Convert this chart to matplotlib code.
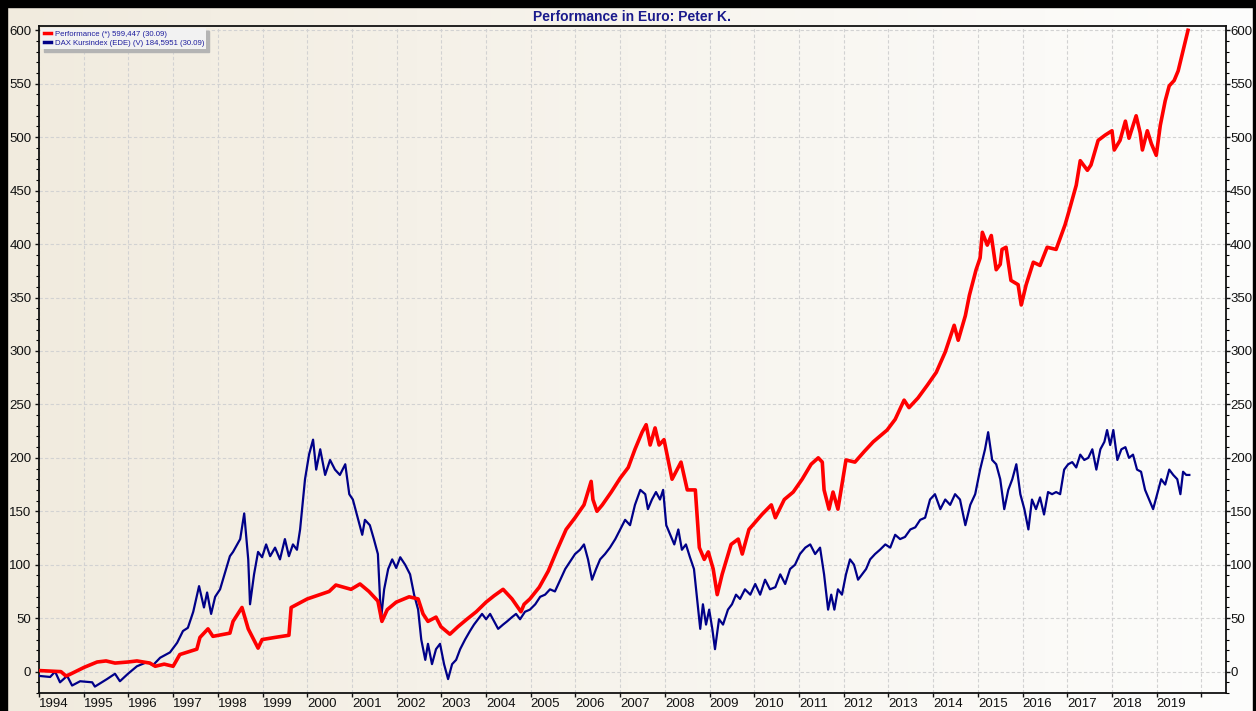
import numpy as np
import matplotlib
import matplotlib.pyplot as plt
from matplotlib.ticker import MultipleLocator

matplotlib.use('Agg')
plt.rcParams['font.family'] = ['Liberation Sans', 'DejaVu Sans']

# Performance (red), decimal years / value
perf_year = [1994.00, 1994.49, 1994.60, 1994.67, 1995.01, 1995.30, 1995.50, 1995.70, 1995.99,
             1996.19, 1996.48, 1996.60, 1996.80, 1997.00, 1997.15, 1997.53, 1997.60, 1997.78,
             1997.89, 1998.27, 1998.34, 1998.54, 1998.68, 1998.90, 1998.99, 1999.28, 1999.59,
             1999.64, 2000.00, 2000.49, 2000.64, 2000.98, 2001.18, 2001.38, 2001.58, 2001.67,
             2001.79, 2001.99, 2002.28, 2002.48, 2002.59, 2002.70, 2002.88, 2002.99, 2003.19,
             2003.37, 2003.57, 2003.78, 2004.00, 2004.18, 2004.38, 2004.58, 2004.78, 2004.85,
             2004.98, 2005.19, 2005.39, 2005.59, 2005.79, 2005.99, 2006.19, 2006.35, 2006.39,
             2006.48, 2006.60, 2006.80, 2007.00, 2007.18, 2007.33, 2007.49, 2007.58, 2007.67,
             2007.78, 2007.87, 2007.98, 2008.16, 2008.36, 2008.50, 2008.68, 2008.77, 2008.88,
             2008.97, 2009.08, 2009.17, 2009.28, 2009.48, 2009.64, 2009.73, 2009.88, 2010.17,
             2010.38, 2010.47, 2010.67, 2010.87, 2011.07, 2011.27, 2011.43, 2011.52, 2011.56,
             2011.67, 2011.76, 2011.87, 2011.96, 2012.05, 2012.25, 2012.46, 2012.66, 2012.97,
             2013.15, 2013.35, 2013.46, 2013.66, 2013.87, 2014.07, 2014.27, 2014.47, 2014.56,
             2014.72, 2014.81, 2014.96, 2015.05, 2015.10, 2015.21, 2015.30, 2015.41, 2015.50,
             2015.54, 2015.63, 2015.74, 2015.90, 2015.97, 2016.08, 2016.24, 2016.39, 2016.55,
             2016.75, 2016.95, 2017.04, 2017.20, 2017.29, 2017.45, 2017.53, 2017.69, 2017.85,
             2018.00, 2018.05, 2018.18, 2018.30, 2018.38, 2018.54, 2018.63, 2018.68, 2018.79,
             2018.88, 2018.99, 2019.08, 2019.19, 2019.28, 2019.39, 2019.48, 2019.59, 2019.70]
perf_val = [1, 0, -4, -3, 4, 9, 10, 8, 9,
            10, 8, 5, 7, 5, 16, 21, 32, 40,
            33, 36, 47, 60, 40, 22, 30, 32, 34,
            60, 68, 75, 81, 77, 82, 75, 66, 47,
            58, 65, 70, 68, 54, 47, 51, 42, 35,
            42, 49, 56, 65, 71, 77, 68, 56, 63,
            68, 79, 94, 114, 133, 144, 156, 178, 161,
            150, 156, 168, 181, 191, 208, 224, 231, 212,
            228, 212, 217, 180, 196, 170, 170, 116, 105,
            112, 96, 72, 91, 119, 124, 110, 133, 147,
            156, 144, 161, 168, 180, 194, 200, 196, 170,
            152, 168, 152, 175, 198, 196, 206, 215, 226,
            236, 254, 247, 256, 268, 280, 299, 324, 310,
            333, 352, 376, 387, 411, 399, 408, 376, 381,
            395, 397, 366, 362, 343, 362, 383, 380, 397,
            395, 418, 431, 455, 478, 469, 474, 497, 502,
            506, 488, 497, 515, 499, 520, 504, 488, 506,
            494, 483, 511, 534, 548, 553, 562, 581, 600]

# DAX Kursindex (blue)
dax_year = [1994.00, 1994.25, 1994.36, 1994.47, 1994.63, 1994.74, 1994.92, 1995.19, 1995.25,
            1995.52, 1995.70, 1995.81, 1995.99, 1996.19, 1996.42, 1996.55, 1996.71, 1996.93,
            1997.09, 1997.22, 1997.33, 1997.45, 1997.58, 1997.69, 1997.76, 1997.85, 1997.94,
            1998.05, 1998.27, 1998.34, 1998.50, 1998.59, 1998.68, 1998.72, 1998.81, 1998.90,
            1998.99, 1999.08, 1999.17, 1999.28, 1999.39, 1999.50, 1999.59, 1999.68, 1999.77,
            1999.84, 1999.95, 2000.04, 2000.13, 2000.20, 2000.29, 2000.40, 2000.51, 2000.62,
            2000.73, 2000.85, 2000.94, 2001.02, 2001.11, 2001.23, 2001.29, 2001.40, 2001.49,
            2001.58, 2001.65, 2001.72, 2001.81, 2001.90, 2001.99, 2002.08, 2002.19, 2002.30,
            2002.39, 2002.48, 2002.55, 2002.64, 2002.70, 2002.79, 2002.88, 2002.97, 2003.06,
            2003.15, 2003.24, 2003.33, 2003.42, 2003.53, 2003.64, 2003.73, 2003.82, 2003.91,
            2004.00, 2004.09, 2004.18, 2004.27, 2004.38, 2004.47, 2004.58, 2004.67, 2004.76,
            2004.87, 2004.98, 2005.10, 2005.21, 2005.32, 2005.43, 2005.54, 2005.66, 2005.77,
            2005.88, 2005.99, 2006.10, 2006.19, 2006.28, 2006.37, 2006.46, 2006.55, 2006.66,
            2006.77, 2006.89, 2007.00, 2007.11, 2007.22, 2007.33, 2007.45, 2007.56, 2007.62,
            2007.71, 2007.80, 2007.89, 2007.96, 2008.03, 2008.12, 2008.21, 2008.30, 2008.38,
            2008.47, 2008.56, 2008.65, 2008.72, 2008.79, 2008.85, 2008.92, 2008.99, 2009.06,
            2009.12, 2009.21, 2009.30, 2009.41, 2009.50, 2009.59, 2009.68, 2009.79, 2009.91,
            2010.02, 2010.13, 2010.24, 2010.35, 2010.47, 2010.58, 2010.69, 2010.80, 2010.91,
            2011.02, 2011.14, 2011.25, 2011.36, 2011.47, 2011.56, 2011.65, 2011.72, 2011.79,
            2011.87, 2011.96, 2012.05, 2012.14, 2012.23, 2012.32, 2012.41, 2012.50, 2012.59,
            2012.70, 2012.81, 2012.93, 2013.04, 2013.15, 2013.26, 2013.37, 2013.49, 2013.60,
            2013.71, 2013.82, 2013.93, 2014.04, 2014.16, 2014.27, 2014.38, 2014.49, 2014.60,
            2014.72, 2014.83, 2014.94, 2015.05, 2015.16, 2015.23, 2015.32, 2015.41, 2015.50,
            2015.59, 2015.68, 2015.77, 2015.86, 2015.95, 2016.04, 2016.13, 2016.21, 2016.30,
            2016.39, 2016.48, 2016.57, 2016.66, 2016.75, 2016.84, 2016.93, 2017.02, 2017.11,
            2017.20, 2017.29, 2017.38, 2017.47, 2017.56, 2017.65, 2017.74, 2017.83, 2017.89,
            2017.96, 2018.03, 2018.12, 2018.21, 2018.30, 2018.38, 2018.47, 2018.56, 2018.65,
            2018.74, 2018.83, 2018.92, 2019.01, 2019.10, 2019.19, 2019.28, 2019.37, 2019.46,
            2019.53, 2019.59, 2019.66, 2019.73]
dax_val = [-4, -5, 0, -10, -4, -13, -9, -10, -14,
           -7, -2, -9, -2, 5, 9, 6, 13, 18,
           27, 38, 41, 56, 80, 60, 74, 54, 70,
           77, 108, 112, 124, 148, 105, 63, 91, 112,
           107, 119, 108, 116, 105, 124, 108, 119, 114,
           133, 180, 203, 217, 189, 208, 184, 198, 189,
           184, 194, 166, 161, 147, 128, 142, 137, 124,
           110, 49, 77, 96, 105, 97, 107, 100, 91,
           72, 58, 30, 11, 26, 7, 21, 26, 7,
           -7, 7, 11, 21, 30, 38, 44, 49, 54,
           49, 54, 47, 40, 44, 47, 51, 54, 49,
           56, 58, 63, 70, 72, 77, 75, 86, 96,
           103, 110, 114, 119, 105, 86, 96, 105, 110,
           116, 124, 133, 142, 137, 156, 170, 166, 152,
           161, 168, 161, 170, 137, 128, 119, 133, 114,
           119, 107, 96, 68, 40, 63, 44, 58, 40,
           21, 49, 44, 58, 63, 72, 68, 77, 72,
           82, 72, 86, 77, 79, 91, 82, 96, 100,
           110, 116, 119, 110, 116, 91, 58, 72, 58,
           77, 72, 91, 105, 100, 86, 91, 96, 105,
           110, 114, 119, 116, 128, 124, 126, 133, 135,
           142, 144, 161, 166, 152, 161, 156, 166, 161,
           137, 156, 166, 189, 208, 224, 198, 194, 180,
           152, 170, 180, 194, 166, 152, 133, 161, 152,
           163, 147, 168, 166, 168, 166, 189, 194, 196,
           191, 203, 198, 200, 208, 189, 208, 215, 226,
           212, 226, 198, 208, 210, 200, 203, 189, 187,
           170, 161, 152, 166, 180, 175, 189, 184, 180,
           166, 187, 184, 184]

years = list(range(1994, 2021))
year_labels = [str(y) for y in range(1994, 2020)] + ['']

fig = plt.figure(figsize=(12.56, 7.11), dpi=100)

# background gradient + black frame
bg = fig.add_axes([0, 0, 1, 1], zorder=-10)
grad = np.linspace(0, 1, 256)
c0 = np.array([241, 235, 222]) / 255
c1 = np.array([253, 253, 252]) / 255
img = c0[None, :] * (1 - grad[:, None]) + c1[None, :] * grad[:, None]
bg.imshow(img[None, :, :], aspect='auto', extent=[0, 1, 0, 1])
bg.set_xlim(0, 1)
bg.set_ylim(0, 1)
bg.axis('off')
bg.add_patch(plt.Rectangle((0, 0), 7 / 1256, 1, color='black'))
bg.add_patch(plt.Rectangle((0, 1 - 7 / 711), 1, 7 / 711, color='black'))
bg.add_patch(plt.Rectangle((1 - 3 / 1256, 0), 3 / 1256, 1, color='black'))

ax = fig.add_axes([39 / 1256, 18 / 711, 1187 / 1256, 667 / 711])
ax.set_facecolor('none')
ax.plot(dax_year, dax_val, color='#000088', lw=1.6,
        label='DAX Kursindex (EDE) (V) 184,5951 (30.09)', zorder=3)
ax.plot(perf_year, perf_val, color='#ff0000', lw=2.6,
        label='Performance (*) 599,447 (30.09)', zorder=4)

ax.set_xlim(1994, 2020.55)
ax.set_ylim(-20, 604)
ax.set_xticks(years)
ax.set_xticklabels(year_labels, ha='left')
ax.yaxis.set_major_locator(MultipleLocator(50))
ax.yaxis.set_minor_locator(MultipleLocator(10))
ax.tick_params(axis='both', which='major', labelsize=9.5, length=3, width=1, colors='#111111')
ax.tick_params(axis='x', pad=0.5)
ax.tick_params(axis='y', pad=2.5)
ax.tick_params(axis='y', which='minor', length=2, width=0.8)
for s in ax.spines.values():
    s.set_linewidth(1.3)
    s.set_color('#111111')
ax.grid(True, which='major', color='#d2d2d2', linestyle=(0, (3, 2)), linewidth=0.8)

# right-hand scale (same values)
ax2 = ax.twinx()
ax2.set_ylim(ax.get_ylim())
ax2.yaxis.set_major_locator(MultipleLocator(50))
ax2.yaxis.set_minor_locator(MultipleLocator(10))
ax2.tick_params(axis='y', which='major', labelsize=9.5, length=3, width=1, colors='#111111', pad=0)
ax2.tick_params(axis='y', which='minor', length=2, width=0.8)
for s in ax2.spines.values():
    s.set_visible(False)

h, l = ax.get_legend_handles_labels()
leg = ax2.legend(h[::-1], l[::-1], loc='upper left', fontsize=5.6, labelcolor='#1e1e9e',
                 handlelength=1.0, handletextpad=0.4, borderaxespad=0.3, borderpad=0.3,
                 labelspacing=0.2, fancybox=False, framealpha=1, edgecolor='none',
                 facecolor='#f2f2f2', shadow={'color': '#b4b4b4', 'alpha': 1})
for line in leg.get_lines():
    line.set_linewidth(2.5)

fig.text(0.503, 1 - 17 / 711, 'Performance in Euro: Peter K.', ha='center', va='center',
         fontsize=10, fontweight='bold', color='#1a1a8c')

fig.savefig('out.png', dpi=100)
